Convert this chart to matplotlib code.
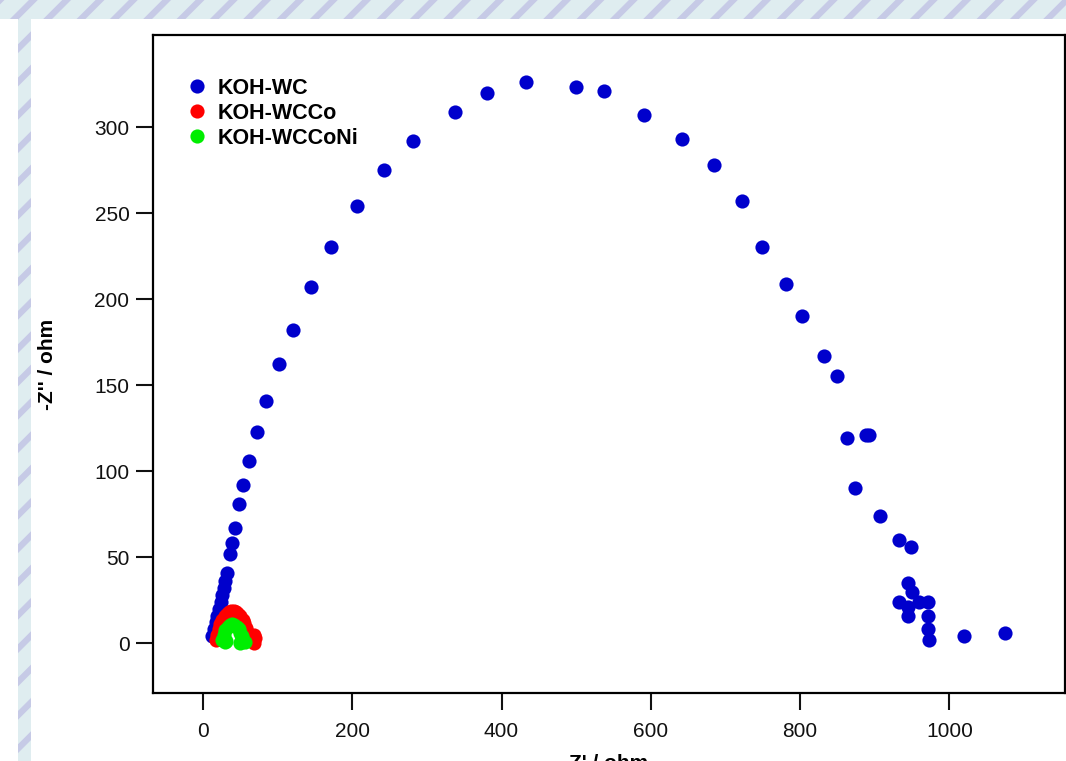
"""
Nyquist plot of the KOH-activated carbon electrodes (EIS).
"""

import matplotlib as mpl

mpl.use("Agg")
import matplotlib.pyplot as plt
from matplotlib.patches import Rectangle

# Z' (ohm) and -Z'' (ohm) for each electrode
wc_re = [12, 15, 17, 19, 22, 24, 26, 28, 30, 32, 36, 39, 43, 48, 54, 62, 73, 85,
         102, 120, 145, 172, 207, 242, 282, 337, 381, 433, 500, 537, 591, 642,
         685, 722, 749, 781, 803, 832, 850, 863, 888, 893, 874, 907, 933, 949,
         944, 950, 933, 944, 945, 960, 972, 972, 972, 973, 1019, 1074]
wc_im = [4, 8, 12, 16, 20, 24, 28, 32, 36, 41, 52, 58, 67, 81, 92, 106, 123, 141,
         162, 182, 207, 230, 254, 275, 292, 309, 320, 326, 323, 321, 307, 293,
         278, 257, 230, 209, 190, 167, 155, 119, 121, 121, 90, 74, 60, 56,
         35, 30, 24, 21, 16, 24, 24, 16, 8, 2, 4, 6]

wcco_re = [17, 19, 21, 23, 26, 29, 32, 35, 38, 41, 44, 47, 50, 53, 55, 57, 59,
           61, 63, 65, 67, 69, 70, 68]
wcco_im = [2, 5, 8, 11, 13.5, 15.5, 17, 18, 18.5, 18.5, 18, 17, 15.5, 13.5,
           11.5, 9, 6.5, 4.5, 3, 2, 1, 0, 3, 5]

wcconi_re = [26, 28, 30, 33, 36, 39, 42, 45, 48, 50, 52, 54, 56, 31, 29, 49, 51]
wcconi_im = [2, 5, 7.5, 9.5, 10.5, 11, 10.5, 9.5, 8, 6, 4, 2, 0.5, 1, 0.5, 0, 1.5]

labels = ["KOH-WC", "KOH-WCCo", "KOH-WCCoNi"]
colors = ["#0000CC", "#FF0000", "#00EE00"]

plt.rcParams["font.family"] = ["Liberation Sans", "DejaVu Sans"]
plt.rcParams["hatch.linewidth"] = 4.5

W, H = 1066, 761
fig = plt.figure(figsize=(W / 100, H / 100), dpi=100)

# striped page border along the top and left edge
stripe_kw = dict(facecolor="#dfedf0", edgecolor="#c6cae6", hatch="/", linewidth=0,
                 transform=fig.transFigure)
fig.add_artist(Rectangle((0, 1 - 19 / H), 1, 19 / H, **stripe_kw))
fig.add_artist(Rectangle((18 / W, 0), 13 / W, 1 - 19 / H, **stripe_kw))

ax = fig.add_axes([153 / W, 1 - 693 / H, (1065 - 153) / W, (693 - 35) / H])

series = [(wc_re, wc_im), (wcco_re, wcco_im), (wcconi_re, wcconi_im)]
for (re, im), lab, col in zip(series, labels, colors):
    ax.plot(re, im, linestyle="none", marker="o", ms=10.2, mew=0, color=col, label=lab)

ax.set_xlim(-67, 1155)
ax.set_ylim(-29, 353.5)
ax.set_xticks([0, 200, 400, 600, 800, 1000])
ax.set_yticks([0, 50, 100, 150, 200, 250, 300])

for sp in ax.spines.values():
    sp.set_linewidth(1.6)
ax.tick_params(direction="out", length=12, width=1.5, labelsize=15, colors="#111111",
               labelcolor="#111111")
ax.tick_params(axis="x", pad=9)
ax.tick_params(axis="y", pad=5)

ax.set_xlabel("Z' / ohm", fontsize=15, fontweight="bold", labelpad=9)
ax.set_ylabel("-Z'' / ohm", fontsize=15, fontweight="bold", labelpad=27)

ax.legend(loc="upper left", bbox_to_anchor=(0.030, 0.948), frameon=False,
          prop={"size": 15.5, "weight": "bold"}, handlelength=0.75,
          handletextpad=0.6, labelspacing=0.19, borderaxespad=0)

fig.savefig("out.png", dpi=100)
